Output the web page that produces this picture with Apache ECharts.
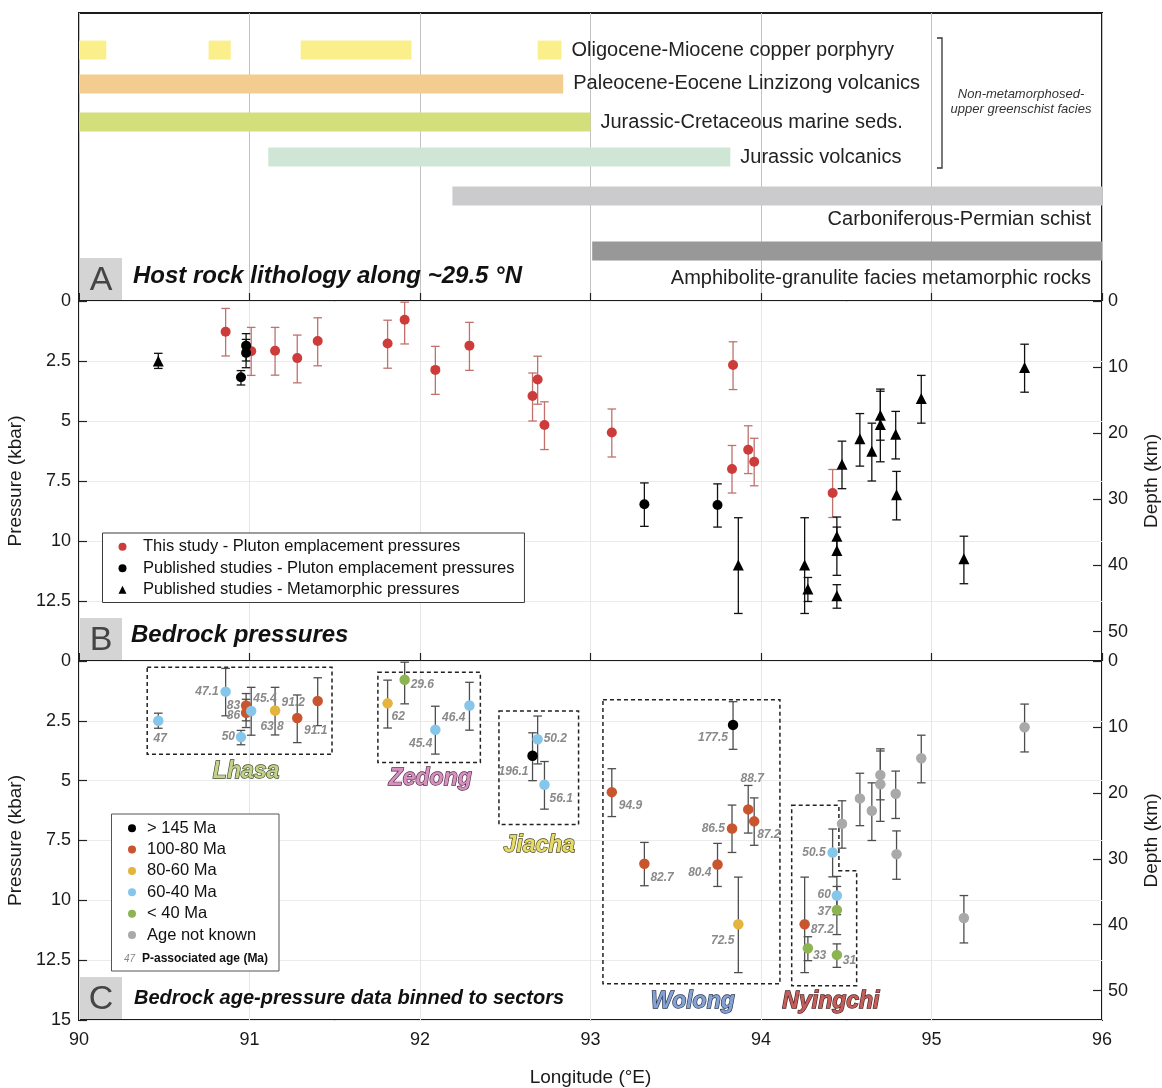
<!DOCTYPE html>
<html>
<head>
<meta charset="utf-8">
<script src="https://cdn.jsdelivr.net/npm/echarts@6/dist/echarts.min.js"></script>
<style>html,body{margin:0;padding:0;background:#fff}#c{width:1162px;height:1088px}</style>
</head>
<body>
<div id="c"></div>
<script>
// ================= DATA =================
// Panel A – host rock lithology along ~29.5 °N (longitude extents)
const lithologyNames = [
  'Oligocene-Miocene copper porphyry',
  'Paleocene-Eocene Linzizong volcanics',
  'Jurassic-Cretaceous marine seds.',
  'Jurassic volcanics',
  'Carboniferous-Permian schist',
  'Amphibolite-granulite facies metamorphic rocks'
];
const segLithology = [0, 0, 0, 0, 1, 2, 3, 4, 5];
const segFromLon   = [90.00, 90.76, 91.30, 92.69, 90.00, 90.00, 91.11, 92.19, 93.01];
const segToLon     = [90.16, 90.89, 91.95, 92.83, 92.84, 93.00, 93.82, 96.00, 96.00];

// Panels B & C – bedrock pressure samples
const sampleLon = [90.465, 90.86, 90.98, 90.98, 90.95, 91.01, 91.15, 91.28, 91.40,
  91.81, 91.91, 92.09, 92.29,
  92.66, 92.69, 92.73,
  93.125, 93.316, 93.745, 93.836, 93.83, 93.925, 93.96, 93.867,
  94.256, 94.275, 94.42, 94.445, 94.445, 94.445,
  94.475, 94.58, 94.65, 94.70, 94.70, 94.79, 94.795, 94.94, 95.19, 95.546];
const samplePressure = [2.50, 1.28, 1.86, 2.16, 3.18, 2.09, 2.07, 2.38, 1.67,
  1.77, 0.78, 2.87, 1.86,
  3.96, 3.27, 5.17,
  5.48, 8.47, 8.50, 2.67, 7.00, 6.20, 6.70, 11.00,
  11.00, 12.00, 8.00, 9.80, 10.40, 12.28,
  6.80, 5.74, 6.26, 4.76, 5.15, 5.55, 8.07, 4.06, 10.74, 2.77];
const pressureLow = [2.18, 0.31, 1.36, 1.60, 2.90, 1.10, 1.10, 1.42, 0.70,
  0.80, 0.05, 1.89, 0.89,
  3.00, 2.30, 4.20,
  4.50, 7.58, 7.62, 1.70, 6.02, 5.20, 5.72, 9.03,
  9.03, 11.52, 7.02, 9.00, 9.42, 11.82,
  5.84, 4.69, 5.09, 3.67, 3.76, 4.60, 7.10, 3.10, 9.80, 1.80];
const pressureHigh = [2.81, 2.29, 2.50, 2.78, 3.50, 3.10, 3.09, 3.41, 2.70,
  2.80, 1.79, 3.89, 2.89,
  5.00, 4.30, 6.19,
  6.50, 9.39, 9.42, 3.69, 8.00, 7.19, 7.70, 13.02,
  13.02, 12.52, 9.02, 10.60, 11.43, 12.80,
  7.82, 6.88, 7.50, 5.80, 6.70, 6.58, 9.12, 5.09, 11.78, 3.80];
// 0 = this study pluton, 1 = published pluton, 2 = published metamorphic
const sampleSource = [2, 0, 1, 1, 1, 0, 0, 0, 0,
  0, 0, 0, 0,
  0, 0, 0,
  0, 1, 1, 0, 0, 0, 0, 2,
  2, 2, 0, 2, 2, 2,
  2, 2, 2, 2, 2, 2, 2, 2, 2, 2];
// 0 >145, 1 100-80, 2 80-60, 3 60-40, 4 <40, 5 unknown
const sampleAgeBin = [3, 3, 1, 1, 3, 3, 2, 1, 1,
  2, 4, 3, 3,
  0, 3, 3,
  1, 1, 1, 0, 1, 1, 1, 2,
  1, 4, 3, 3, 4, 4,
  5, 5, 5, 5, 5, 5, 5, 5, 5, 5];
const sampleAgeLabel = ['47', '47.1', '83', '86', '50', '45.4', '63.8', '91.2', '91.1',
  '62', '29.6', '45.4', '46.4',
  '196.1', '50.2', '56.1',
  '94.9', '82.7', '80.4', '177.5', '86.5', '88.7', '87.2', '72.5',
  '87.2', '33', '50.5', '60', '37', '31',
  '', '', '', '', '', '', '', '', '', ''];

const sourceNames = ['This study - Pluton emplacement pressures',
  'Published studies - Pluton emplacement pressures',
  'Published studies - Metamorphic pressures'];
const ageBinNames = ['> 145 Ma', '100-80 Ma', '80-60 Ma', '60-40 Ma', '< 40 Ma', 'Age not known'];

// Sectors (outline corners in [lon, kbar])
const sectorNames = ['Lhasa', 'Zedong', 'Jiacha', 'Wolong', 'Nyingchi'];
const sectorOutline = [
  [[90.40, 0.26], [91.484, 0.26], [91.484, 3.90], [90.40, 3.90]],
  [[91.753, 0.47], [92.354, 0.47], [92.354, 4.24], [91.753, 4.24]],
  [[92.463, 2.09], [92.93, 2.09], [92.93, 6.83], [92.463, 6.83]],
  [[93.073, 1.62], [94.111, 1.62], [94.111, 13.49], [93.073, 13.49]],
  [[94.18, 6.03], [94.457, 6.03], [94.457, 8.76], [94.561, 8.76], [94.561, 13.57], [94.18, 13.57]]
];
const sectorNameAt = [[90.98, 4.61], [92.06, 4.90], [92.70, 7.71], [93.60, 14.24], [94.41, 14.24]];

const KM_PER_KBAR = 3.63;
const P_MAX = 15;

// ================= STYLE / LAYOUT =================
const FONT = '"Liberation Sans", Arial, Helvetica, sans-serif';
const lithColors = ['#fbef8c', '#f3cd8f', '#d3df7b', '#cfe6d7', '#cbcbcd', '#989898'];
const lithRow = [1.03, 1.97, 3.03, 4.0, 5.08, 6.61];          // rows in panel-A units
const lithLabelMode = ['after', 'after', 'after', 'after', 'below', 'below'];
const lithLabelDy = [0, 0, 0, 0, 24, 28];
const sourceColors = ['#cd3b3b', '#000000', '#000000'];
const sourceErrColors = ['#c0716c', '#111111', '#111111'];
const ageColors = ['#000000', '#c9552f', '#e4b43e', '#86c6ea', '#8db452', '#a9a9a9'];
const sectorFill = ['#c3d189', '#d890c0', '#e6dc64', '#86a2d2', '#c45e5a'];
const sectorStroke = ['#3a4628', '#4a2a40', '#4a4420', '#243250', '#4a2020'];
const ageLabelPlacement = [
  [2, 18, 'center'], [-7, 0, 'right'], [-6, 0, 'right'], [-6, 3, 'right'], [-6, 0, 'right'],
  [2, -12, 'left'], [-3, 16, 'center'], [-4, -15, 'center'], [-2, 30, 'center'],
  [4, 13, 'left'], [6, 5, 'left'], [-3, 14, 'right'], [-4, 12, 'right'],
  [-4, 16, 'right'], [6, -1, 'left'], [5, 14, 'left'],
  [7, 14, 'left'], [6, 14, 'left'], [-6, 8, 'right'], [-5, 13, 'right'], [-7, 0, 'right'],
  [4, -31, 'center'], [3, 13, 'left'], [-4, 16, 'right'],
  [6, 5, 'left'], [5, 7, 'left'], [-7, 0, 'right'], [-6, -1, 'right'], [-6, 2, 'right'], [6, 6, 'left'],
  null, null, null, null, null, null, null, null, null, null
];

function txtStyle(o) {
  const s = Object.assign({fontFamily: FONT}, o);
  if (o.align) s.textAlign = o.align;
  if (o.verticalAlign) s.textVerticalAlign = o.verticalAlign;
  return s;
}

// ================= CHART =================
const chart = echarts.init(document.getElementById('c'), null, {renderer: 'canvas'});

const gridBase = {show: true, borderColor: '#1b1b1b', borderWidth: 2, backgroundColor: 'transparent', containLabel: false, outerBoundsMode: 'none'};
const grids = [
  Object.assign({left: 79, top: 13, width: 1023, height: 288}, gridBase),
  Object.assign({left: 79, top: 301, width: 1023, height: 360}, gridBase),
  Object.assign({left: 79, top: 661, width: 1023, height: 359}, gridBase)
];

const xBase = {type: 'value', min: 90, max: 96, interval: 1, axisLine: {show: false}};
const xTick = {show: true, inside: true, length: 8, lineStyle: {color: '#222', width: 1.2}};
const xAxes = [
  Object.assign({gridIndex: 0, axisTick: {show: false}, axisLabel: {show: false},
    splitLine: {show: true, lineStyle: {color: '#c2c2c2', width: 1}}}, xBase),
  Object.assign({gridIndex: 1, axisTick: xTick, axisLabel: {show: false},
    splitLine: {show: true, lineStyle: {color: '#e6e6e6', width: 1}}}, xBase),
  Object.assign({gridIndex: 2, axisTick: xTick,
    axisLabel: {show: true, fontSize: 18, color: '#1a1a1a', margin: 11, fontFamily: FONT},
    splitLine: {show: true, lineStyle: {color: '#e6e6e6', width: 1}},
    name: 'Longitude (°E)', nameLocation: 'middle', nameGap: 48,
    nameTextStyle: {fontSize: 19, color: '#1a1a1a', fontFamily: FONT}}, xBase)
];

function pAxis(gi, showMax) {
  return {type: 'value', gridIndex: gi, min: 0, max: P_MAX, interval: 2.5, inverse: true, position: 'left',
    axisLine: {show: false},
    axisTick: {show: true, inside: true, length: 8, lineStyle: {color: '#222', width: 1.2}},
    axisLabel: {fontSize: 18, color: '#1a1a1a', margin: 8, fontFamily: FONT, showMaxLabel: showMax},
    splitLine: {show: true, lineStyle: {color: '#ebebeb', width: 1}},
    name: 'Pressure (kbar)', nameLocation: 'middle', nameGap: 46,
    nameTextStyle: {fontSize: 19, color: '#1a1a1a', fontFamily: FONT}};
}
function dAxis(gi) {
  return {type: 'value', gridIndex: gi, min: 0, max: P_MAX * KM_PER_KBAR, interval: 10, inverse: true, position: 'right',
    axisLine: {show: false},
    axisTick: {show: true, inside: true, length: 9, lineStyle: {color: '#222', width: 1.2}},
    axisLabel: {fontSize: 18, color: '#1a1a1a', margin: 6, fontFamily: FONT, showMaxLabel: false},
    splitLine: {show: false},
    name: 'Depth (km)', nameLocation: 'middle', nameGap: 40,
    nameTextStyle: {fontSize: 19, color: '#1a1a1a', fontFamily: FONT}};
}
const yAxes = [
  {type: 'value', gridIndex: 0, min: 0, max: 8, inverse: true, show: false},
  pAxis(1, false), dAxis(1), pAxis(2, true), dAxis(2)
];

// ---- Panel A bars ----
const lithSeries = {
  type: 'custom', name: 'lithology', xAxisIndex: 0, yAxisIndex: 0, silent: true, clip: false,
  data: segFromLon.map((f, i) => [f, segToLon[i], segLithology[i]]),
  encode: {x: [0, 1], y: 2},
  renderItem: (params, api) => {
    const li = api.value(2);
    const row = lithRow[li];
    const a = api.coord([api.value(0), row]);
    const b = api.coord([api.value(1), row]);
    const children = [{type: 'rect', shape: {x: a[0], y: a[1] - 9.5, width: b[0] - a[0], height: 19},
      style: {fill: lithColors[li]}}];
    if (segLithology.lastIndexOf(li) === params.dataIndex) {
      if (lithLabelMode[li] === 'after') {
        children.push({type: 'text', x: b[0] + 10, y: a[1] + lithLabelDy[li],
          style: txtStyle({text: lithologyNames[li], fontSize: 20, fill: '#222', align: 'left', verticalAlign: 'middle'})});
      } else {
        const r = api.coord([96, row]);
        children.push({type: 'text', x: r[0] - 11, y: a[1] + lithLabelDy[li],
          style: txtStyle({text: lithologyNames[li], fontSize: 20, fill: '#222', align: 'right', verticalAlign: 'middle'})});
      }
    }
    return {type: 'group', children};
  }
};

// ---- error bars ----
function errorBarRender(colorOf) {
  return (params, api) => {
    const i = api.value(3);
    const t = api.coord([api.value(0), api.value(1)]);
    const b = api.coord([api.value(0), api.value(2)]);
    const c = colorOf(i);
    const w = 4.3;
    const st = {stroke: c, lineWidth: 1.3};
    return {type: 'group', children: [
      {type: 'line', shape: {x1: t[0], y1: t[1], x2: b[0], y2: b[1]}, style: st},
      {type: 'line', shape: {x1: t[0] - w, y1: t[1], x2: t[0] + w, y2: t[1]}, style: st},
      {type: 'line', shape: {x1: b[0] - w, y1: b[1], x2: b[0] + w, y2: b[1]}, style: st}
    ]};
  };
}
const errData = sampleLon.map((x, i) => [x, pressureLow[i], pressureHigh[i], i]);

const seriesB = [
  {type: 'custom', name: 'errB', xAxisIndex: 1, yAxisIndex: 1, silent: true, z: 2, clip: false,
    data: errData, encode: {x: 0, y: [1, 2]},
    renderItem: errorBarRender(i => sourceErrColors[sampleSource[i]])}
].concat(sourceNames.map((nm, s) => ({
  type: 'scatter', name: nm, xAxisIndex: 1, yAxisIndex: 1, z: 3,
  symbol: s === 2 ? 'triangle' : 'circle', symbolSize: s === 2 ? 11 : 10,
  itemStyle: {color: sourceColors[s], opacity: 1},
  data: sampleLon.map((x, i) => [x, samplePressure[i], i]).filter(d => sampleSource[d[2]] === s)
})));

const seriesC = [
  {type: 'custom', name: 'sectors', xAxisIndex: 2, yAxisIndex: 3, silent: true, z: 1, clip: false,
    data: sectorNames.map((n, k) => [sectorNameAt[k][0], sectorNameAt[k][1], k]),
    encode: {x: 0, y: 1},
    renderItem: (params, api) => {
      const k = api.value(2);
      const pts = sectorOutline[k].map(p => api.coord(p));
      const at = api.coord([api.value(0), api.value(1)]);
      return {type: 'group', children: [
        {type: 'polygon', shape: {points: pts},
          style: {fill: 'none', stroke: '#222', lineWidth: 1.5, lineDash: [4, 3]}},
        {type: 'text', x: at[0], y: at[1], z2: 10,
          style: txtStyle({text: sectorNames[k], fontSize: 23, fontWeight: 'bold', fontStyle: 'italic',
            fill: sectorFill[k], stroke: sectorStroke[k], lineWidth: 1.3,
            textFill: sectorFill[k], textStroke: sectorStroke[k], textStrokeWidth: 1.3,
            align: 'center', verticalAlign: 'middle'})}
      ]};
    }},
  {type: 'custom', name: 'errC', xAxisIndex: 2, yAxisIndex: 3, silent: true, z: 2, clip: false,
    data: errData, encode: {x: 0, y: [1, 2]},
    renderItem: errorBarRender(() => '#4e4e4e')}
].concat(ageBinNames.map((nm, a) => ({
  type: 'scatter', name: nm, xAxisIndex: 2, yAxisIndex: 3, z: 3,
  symbol: 'circle', symbolSize: 10.5,
  itemStyle: {color: ageColors[a], opacity: 1},
  data: sampleLon.map((x, i) => [x, samplePressure[i], i]).filter(d => sampleAgeBin[d[2]] === a)
}))).concat([
  {type: 'custom', name: 'ageLabels', xAxisIndex: 2, yAxisIndex: 3, silent: true, z: 6, clip: false,
    data: sampleLon.map((x, i) => [x, samplePressure[i], i]).filter(d => sampleAgeLabel[d[2]] !== ''),
    encode: {x: 0, y: 1},
    renderItem: (params, api) => {
      const i = api.value(2);
      const pl = ageLabelPlacement[i];
      const p = api.coord([api.value(0), api.value(1)]);
      return {type: 'text', x: p[0] + pl[0], y: p[1] + pl[1],
        style: txtStyle({text: sampleAgeLabel[i], fontSize: 12, fontWeight: 'bold', fontStyle: 'italic',
          fill: '#8a8a8a', align: pl[2], verticalAlign: 'middle'})};
    }}
]);

const legendText = {fontSize: 16.5, color: '#111', fontFamily: FONT, lineHeight: 17.5};
const option = {
  animation: false,
  backgroundColor: '#fff',
  textStyle: {fontFamily: FONT},
  grid: grids,
  xAxis: xAxes,
  yAxis: yAxes,
  legend: [
    {data: sourceNames, orient: 'vertical', left: 102.5, top: 533, itemWidth: 8, itemHeight: 8, itemGap: 4,
      padding: [5, 10, 4, 16], borderColor: '#3a3a3a', borderWidth: 1, backgroundColor: '#fff',
      selectedMode: false, symbolKeepAspect: true,
      textStyle: Object.assign({padding: [0, 0, 0, 11.5]}, legendText)},
    {data: ageBinNames, orient: 'vertical', left: 128, top: 819.5, itemWidth: 8, itemHeight: 8, itemGap: 3.85,
      padding: 0, selectedMode: false, symbolKeepAspect: true,
      textStyle: Object.assign({padding: [0, 0, 0, 6]}, legendText), z: 6}
  ],
  graphic: [
    {type: 'rect', shape: {x: 80, y: 258, width: 42, height: 42}, style: {fill: '#d4d4d4'}, z: 1},
    {type: 'text', x: 101, y: 281, z: 2, style: txtStyle({text: 'A', fontSize: 34, fill: '#454545', align: 'center', verticalAlign: 'middle'})},
    {type: 'text', x: 133, y: 276, z: 2, style: txtStyle({text: 'Host rock lithology along ~29.5 °N', fontSize: 24, fontWeight: 'bold', fontStyle: 'italic', fill: '#111', align: 'left', verticalAlign: 'middle'})},
    {type: 'rect', shape: {x: 80, y: 618, width: 42, height: 42}, style: {fill: '#d4d4d4'}, z: 1},
    {type: 'text', x: 101, y: 641, z: 2, style: txtStyle({text: 'B', fontSize: 34, fill: '#454545', align: 'center', verticalAlign: 'middle'})},
    {type: 'text', x: 131, y: 635, z: 2, style: txtStyle({text: 'Bedrock pressures', fontSize: 24, fontWeight: 'bold', fontStyle: 'italic', fill: '#111', align: 'left', verticalAlign: 'middle'})},
    {type: 'rect', shape: {x: 80, y: 977, width: 42, height: 42}, style: {fill: '#d4d4d4'}, z: 1},
    {type: 'text', x: 101, y: 1000, z: 2, style: txtStyle({text: 'C', fontSize: 34, fill: '#454545', align: 'center', verticalAlign: 'middle'})},
    {type: 'text', x: 134, y: 998, z: 2, style: txtStyle({text: 'Bedrock age-pressure data binned to sectors', fontSize: 20, fontWeight: 'bold', fontStyle: 'italic', fill: '#111', align: 'left', verticalAlign: 'middle'})},
    {type: 'polyline', shape: {points: [[937, 38], [942, 38], [942, 168], [937, 168]]}, style: {stroke: '#333', lineWidth: 1.3, fill: 'none'}, z: 2},
    {type: 'text', x: 1021, y: 94, z: 2, style: txtStyle({text: 'Non-metamorphosed-', fontSize: 13, fontStyle: 'italic', fill: '#333', align: 'center', verticalAlign: 'middle'})},
    {type: 'text', x: 1021, y: 109, z: 2, style: txtStyle({text: 'upper greenschist facies', fontSize: 13, fontStyle: 'italic', fill: '#333', align: 'center', verticalAlign: 'middle'})},
    {type: 'rect', shape: {x: 111.5, y: 814, width: 167.5, height: 157}, style: {fill: '#fff', stroke: '#555', lineWidth: 1}, z: 3},
    {type: 'text', x: 124, y: 959, z: 4, style: txtStyle({text: '47', fontSize: 10, fontStyle: 'italic', fill: '#888', align: 'left', verticalAlign: 'middle'})},
    {type: 'text', x: 142, y: 959, z: 4, style: txtStyle({text: 'P-associated age (Ma)', fontSize: 12, fontWeight: 'bold', fill: '#111', align: 'left', verticalAlign: 'middle'})}
  ],
  series: [lithSeries].concat(seriesB, seriesC)
};
chart.setOption(option);
</script>
</body>
</html>
